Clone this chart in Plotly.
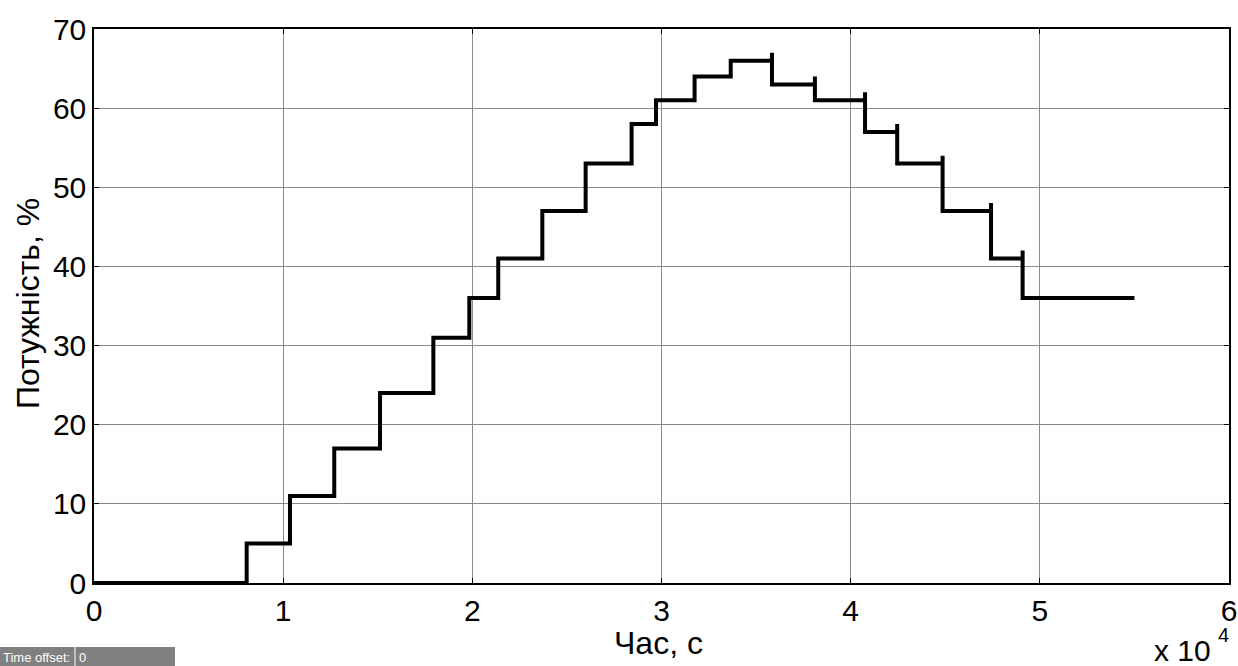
import plotly.graph_objects as go

# Step change times (s) and power levels (%)
switch_times = [8070, 10360, 12700, 15120, 17940, 19840, 21370, 23700, 25990, 28420,
                29710, 31750, 33660, 35840, 38110, 40760, 42460, 44860, 47420, 49090]
power_levels = [0, 5, 11, 17, 24, 31, 36, 41, 47, 53, 58, 61, 64, 66, 63, 61, 57, 53, 47, 41, 36]
# overshoot peak at each switch (None = no overshoot)
overshoot = [None] * 13 + [67, 64, 62, 58, 54, 48, 42]
t_start = 0
t_end = 55000

x_ticks = [0, 10000, 20000, 30000, 40000, 50000, 60000]
x_tick_text = ["0", "1", "2", "3", "4", "5", "6"]
y_ticks = [0, 10, 20, 30, 40, 50, 60, 70]

xs = [t_start]
ys = [power_levels[0]]
for i, t in enumerate(switch_times):
    xs.append(t); ys.append(power_levels[i])
    if overshoot[i] is not None:
        xs.append(t); ys.append(overshoot[i])
    xs.append(t); ys.append(power_levels[i + 1])
xs.append(t_end); ys.append(power_levels[-1])

FONT = "Liberation Sans, Arial, sans-serif"
FS = 30
FS_TITLE = 32

fig = go.Figure()
fig.add_trace(go.Scatter(x=xs, y=ys, mode="lines",
                         line=dict(color="black", width=4),
                         showlegend=False, hoverinfo="skip"))

axis_common = dict(showline=True, linecolor="black", linewidth=1.5, mirror="ticks",
                   ticks="inside", ticklen=5, tickcolor="black", tickwidth=1,
                   showgrid=True, gridcolor="#8a8a8a", gridwidth=1, zeroline=False,
                   automargin=False,
                   tickfont=dict(family=FONT, size=FS, color="black"))

fig.update_xaxes(range=[0, 60000], tickvals=x_ticks, ticktext=x_tick_text, **axis_common)
fig.update_yaxes(range=[0, 70], tickvals=y_ticks, **axis_common)

W, H = 1238, 666
L, R, T, B = 94, 9, 29, 83
pw, ph = W - L - R, H - T - B

def px(x):
    return (x - L) / pw

def py(y):
    return (H - B - y) / ph

annotations = [
    dict(text="Час, с", x=px(658), y=py(643), xref="paper", yref="paper",
         showarrow=False, font=dict(family=FONT, size=FS_TITLE, color="black"),
         xanchor="center", yanchor="middle"),
    dict(text="Потужність, %", x=px(28), y=py(304), xref="paper", yref="paper",
         showarrow=False, textangle=-90, font=dict(family=FONT, size=FS_TITLE, color="black"),
         xanchor="center", yanchor="middle"),
    dict(text="x 10", x=px(1213), y=py(650), xref="paper", yref="paper",
         showarrow=False, font=dict(family=FONT, size=FS, color="black"),
         xanchor="right", yanchor="middle"),
    dict(text="4", x=px(1216), y=py(635), xref="paper", yref="paper",
         showarrow=False, font=dict(family=FONT, size=20, color="black"),
         xanchor="left", yanchor="middle"),
    dict(text="Time offset:", x=px(1), y=py(657), xref="paper", yref="paper",
         showarrow=False, font=dict(family=FONT, size=13, color="white"),
         xanchor="left", yanchor="middle"),
    dict(text="0", x=px(77), y=py(657), xref="paper", yref="paper",
         showarrow=False, font=dict(family=FONT, size=13, color="white"),
         xanchor="left", yanchor="middle"),
]

shapes = [
    dict(type="rect", xref="paper", yref="paper", x0=px(0), x1=px(175),
         y0=py(666), y1=py(647), fillcolor="#808080", line=dict(width=0), layer="below"),
    dict(type="line", xref="paper", yref="paper", x0=px(75), x1=px(75),
         y0=py(666), y1=py(647), line=dict(color="white", width=1), layer="below"),
]

fig.update_layout(width=W, height=H, margin=dict(l=L, r=R, t=T, b=B),
                  plot_bgcolor="white", paper_bgcolor="white",
                  annotations=annotations, shapes=shapes,
                  font=dict(family=FONT, color="black"))

fig.write_html("out.html", config={"displayModeBar": False},
               post_script="document.body.style.margin='0';document.body.style.overflow='hidden';")
